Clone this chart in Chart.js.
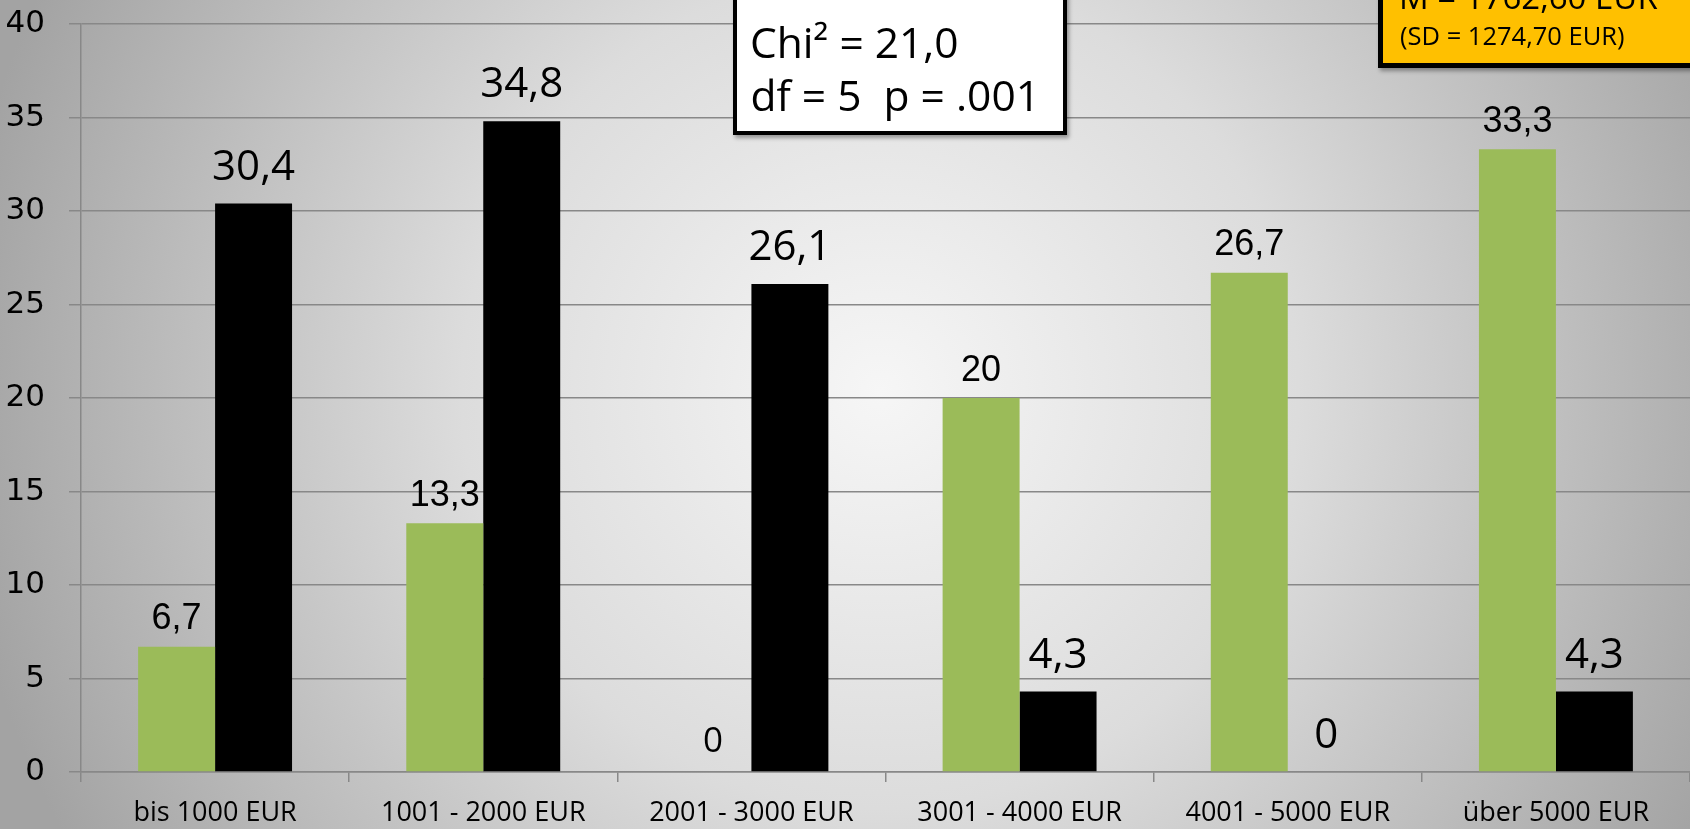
<!DOCTYPE html>
<html><head><meta charset="utf-8">
<script src="https://cdn.jsdelivr.net/npm/chart.js@4.4.0/dist/chart.umd.min.js"></script>
<style>
html,body{margin:0;padding:0;overflow:hidden;width:1690px;height:829px;background:#bdbdbd;}
#wrap{position:relative;width:1690px;height:829px;overflow:hidden;}
canvas{display:block;}
.box{position:absolute;box-sizing:border-box;box-shadow:2px 3px 4px rgba(0,0,0,0.35);}
.t{position:absolute;font-family:"Open Sans";line-height:1;white-space:nowrap;color:#000;}
</style></head><body>
<div id="wrap">
<canvas id="c" width="1690" height="829"></canvas>
<div class="box" style="left:733px;top:-20px;width:334px;height:154.5px;background:#fff;border:4px solid #000;"></div>
<div class="t" style="left:750px;top:21.4px;font-size:42.5px;">Chi² = 21,0</div>
<div class="t" style="left:750.5px;top:74.3px;font-size:42.5px;">df = 5&nbsp; p = .001</div>
<div class="box" style="left:1378px;top:-20px;width:330px;height:88px;background:#FFC000;border:5px solid #000;"></div>
<div class="t" style="left:1399px;top:-20.3px;font-size:33px;">M = 1762,60 EUR</div>
<div class="t" style="left:1400px;top:23px;font-size:25.5px;">(SD = 1274,70 EUR)</div>
</div>
<script>
const categories = ['bis 1000 EUR', '1001 - 2000 EUR', '2001 - 3000 EUR', '3001 - 4000 EUR', '4001 - 5000 EUR', 'über 5000 EUR'];
const greenValues = [6.7, 13.3, 0, 20, 26.7, 33.3];
const blackValues = [30.4, 34.8, 26.1, 4.3, 0, 4.3];
const yMin = 0;
const yMax = 40;
const yStep = 5;

const bgPlugin = {
  id: 'bg',
  beforeDraw(chart) {
    const {ctx, width, height} = chart;
    const g = ctx.createRadialGradient(880, 390, 0, 880, 390, 930);
    g.addColorStop(0, '#f6f6f6');
    g.addColorStop(0.45, '#dcdcdc');
    g.addColorStop(1, '#a3a3a3');
    ctx.save();
    ctx.fillStyle = g;
    ctx.fillRect(0, 0, width, height);
    ctx.restore();
  }
};

const labelPlugin = {
  id: 'valueLabels',
  afterDatasetsDraw(chart) {
    const ctx = chart.ctx;
    chart.data.datasets.forEach((ds, di) => {
      const meta = chart.getDatasetMeta(di);
      meta.data.forEach((bar, i) => {
        const v = ds.data[i];
        const txt = String(v).replace('.', ',');
        let font, off;
        if (di === 0) {
          if (v === 0) { font = '35px "Open Sans"'; off = 20; }
          else { font = '36px "Liberation Sans"'; off = 17.5; }
        } else {
          font = '42px "Open Sans"'; off = 24;
        }
        ctx.save();
        ctx.font = font;
        ctx.fillStyle = '#000';
        ctx.textAlign = 'center';
        ctx.textBaseline = 'alphabetic';
        ctx.fillText(txt, bar.x, bar.y - off);
        ctx.restore();
      });
    });
  }
};

new Chart(document.getElementById('c'), {
  type: 'bar',
  data: {
    labels: categories,
    datasets: [
      {label: 'A', data: greenValues, backgroundColor: '#9BBB59', borderWidth: 0},
      {label: 'B', data: blackValues, backgroundColor: '#000000', borderWidth: 0}
    ]
  },
  options: {
    responsive: false,
    animation: false,
    devicePixelRatio: 1,
    layout: {padding: {top: 24, left: 0, right: 0, bottom: 0}},
    plugins: {legend: {display: false}, tooltip: {enabled: false}},
    datasets: {bar: {categoryPercentage: 0.574, barPercentage: 1}},
    scales: {
      x: {
        grid: {drawOnChartArea: false, drawTicks: true, tickLength: 10, color: '#888', lineWidth: 1.5},
        border: {color: '#888', width: 1.5},
        ticks: {color: '#000', font: {family: '"Open Sans"', size: 27}, padding: 15, maxRotation: 0, autoSkip: false},
        afterFit(s) { s.height = 57; }
      },
      y: {
        min: yMin, max: yMax,
        ticks: {stepSize: yStep, color: '#000', font: {family: '"DejaVu Sans"', size: 31}, padding: 24},
        grid: {color: '#888', lineWidth: 1.5, tickLength: 12},
        border: {color: '#888', width: 1.5},
        afterFit(s) { s.width = 81; s.paddingTop = 0; s.paddingBottom = 0; }
      }
    }
  },
  plugins: [bgPlugin, labelPlugin]
});
</script>
</body></html>
